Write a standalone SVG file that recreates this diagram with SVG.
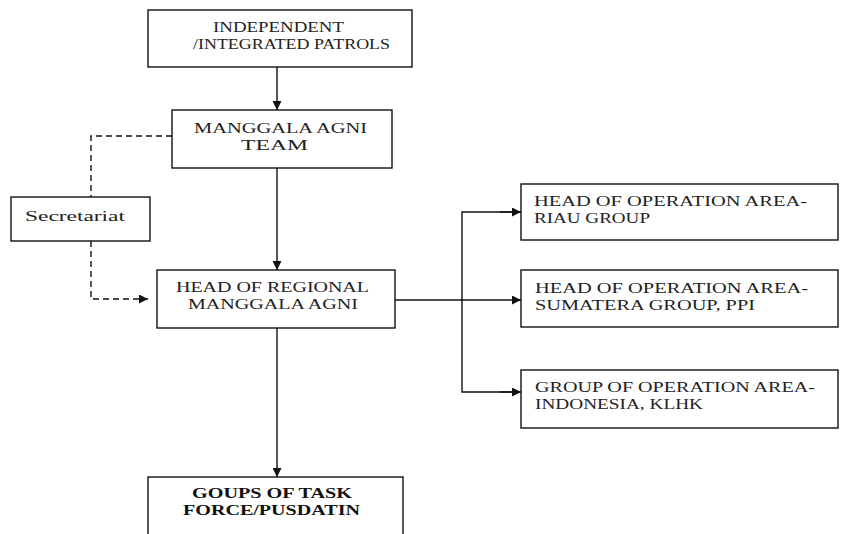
<svg xmlns="http://www.w3.org/2000/svg" width="849" height="534" viewBox="0 0 849 534">
<defs>
<style>
.box{fill:#fff;stroke:#111;stroke-width:1.4}
.t{font-family:"Liberation Serif","Times New Roman",serif;font-size:15px;fill:#222}
.b{font-weight:bold;fill:#111}
.ln{fill:none;stroke:#111;stroke-width:1.4}
.ds{fill:none;stroke:#111;stroke-width:1.4;stroke-dasharray:6,4}
</style>
<marker id="ah" viewBox="0 0 10 10" refX="10" refY="5" markerWidth="9" markerHeight="9" markerUnits="userSpaceOnUse" orient="auto">
<path d="M0,0 L10,5 L0,10 z" fill="#111"/>
</marker>
</defs>
<rect width="849" height="534" fill="#fff"/>
<g id="connectors">
<line class="ln" x1="277" y1="67" x2="277" y2="110" marker-end="url(#ah)"/>
<line class="ln" x1="277" y1="168" x2="277" y2="270" marker-end="url(#ah)"/>
<line class="ln" x1="277" y1="328" x2="277" y2="477" marker-end="url(#ah)"/>
<polyline class="ds" points="172,136 91,136 91,197"/>
<polyline class="ds" points="91,241 91,299 148,299" marker-end="url(#ah)"/>
<line class="ln" x1="395" y1="300" x2="521" y2="300" marker-end="url(#ah)"/>
<polyline class="ln" points="521,212 462,212 462,392 521,392"/>
<line class="ln" x1="500" y1="212" x2="521" y2="212" marker-end="url(#ah)"/>
<line class="ln" x1="500" y1="392" x2="521" y2="392" marker-end="url(#ah)"/>
</g>
<g id="patrols">
<rect class="box" x="148" y="10" width="264" height="57"/>
<text class="t" x="213" y="32" textLength="131" lengthAdjust="spacingAndGlyphs">INDEPENDENT</text>
<text class="t" x="193" y="49" textLength="197" lengthAdjust="spacingAndGlyphs">/INTEGRATED PATROLS</text>
</g>
<g id="team">
<rect class="box" x="172" y="110" width="220" height="58"/>
<text class="t" x="194" y="133" textLength="173" lengthAdjust="spacingAndGlyphs">MANGGALA AGNI</text>
<text class="t" x="241" y="150" textLength="67" lengthAdjust="spacingAndGlyphs">TEAM</text>
</g>
<g id="secretariat">
<rect class="box" x="11" y="197" width="139" height="44"/>
<text class="t" x="25" y="221" textLength="100" lengthAdjust="spacingAndGlyphs">Secretariat</text>
</g>
<g id="regional">
<rect class="box" x="157" y="270" width="238" height="58"/>
<text class="t" x="176" y="292" textLength="193" lengthAdjust="spacingAndGlyphs">HEAD OF REGIONAL</text>
<text class="t" x="188" y="309" textLength="170" lengthAdjust="spacingAndGlyphs">MANGGALA AGNI</text>
</g>
<g id="riau">
<rect class="box" x="521" y="184" width="317" height="56"/>
<text class="t" x="534" y="206" textLength="273" lengthAdjust="spacingAndGlyphs">HEAD OF OPERATION AREA-</text>
<text class="t" x="534" y="223" textLength="116" lengthAdjust="spacingAndGlyphs">RIAU GROUP</text>
</g>
<g id="sumatera">
<rect class="box" x="521" y="270" width="317" height="57"/>
<text class="t" x="535" y="293" textLength="273" lengthAdjust="spacingAndGlyphs">HEAD OF OPERATION AREA-</text>
<text class="t" x="535" y="310" textLength="220" lengthAdjust="spacingAndGlyphs">SUMATERA GROUP, PPI</text>
</g>
<g id="indonesia">
<rect class="box" x="521" y="370" width="317" height="58"/>
<text class="t" x="535" y="392" textLength="280" lengthAdjust="spacingAndGlyphs">GROUP OF OPERATION AREA-</text>
<text class="t" x="535" y="409" textLength="168" lengthAdjust="spacingAndGlyphs">INDONESIA, KLHK</text>
</g>
<g id="taskforce">
<rect class="box" x="148" y="477" width="255" height="70"/>
<text class="t b" x="192" y="498" textLength="160" lengthAdjust="spacingAndGlyphs">GOUPS OF TASK</text>
<text class="t b" x="183" y="515" textLength="177" lengthAdjust="spacingAndGlyphs">FORCE/PUSDATIN</text>
</g>
</svg>
